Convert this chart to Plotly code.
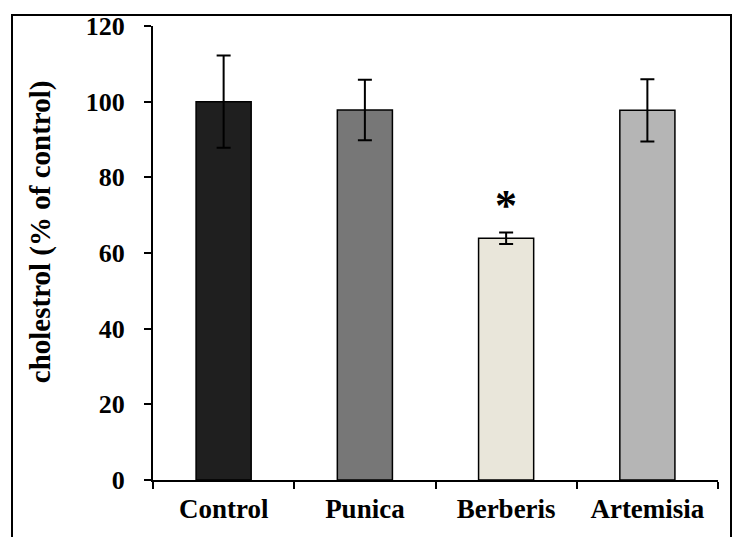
import plotly.graph_objects as go

categories = ["Control", "Punica", "Berberis", "Artemisia"]
values = [100.0, 97.8, 63.9, 97.7]
errors = [12.2, 8.0, 1.5, 8.2]
colors = ["#1f1f1f", "#777777", "#e9e6da", "#b5b5b5"]
significant = [False, False, True, False]
y_ticks = [0, 20, 40, 60, 80, 100, 120]

W, H = 738, 537
ML, MR, MT, MB = 153, 20, 22, 57
pw, ph = W - ML - MR, H - MT - MB

fig = go.Figure()
fig.add_trace(go.Bar(
    x=categories, y=values,
    marker=dict(color=colors, line=dict(color="black", width=1.5)),
    error_y=dict(type="data", array=errors, visible=True, color="black",
                 thickness=2, width=7),
    width=0.39,
    showlegend=False,
))

for c, v, e, s in zip(categories, values, errors, significant):
    if s:
        fig.add_annotation(x=c, y=v + e, yshift=27, text="<b>*</b>",
                           showarrow=False, yanchor="middle",
                           font=dict(family="Liberation Serif", size=44, color="black"))

def px(xp):
    return (xp - ML) / pw

def py(yp):
    return (H - MB - yp) / ph

# outer frame (bottom edge lies outside the picture)
fig.add_shape(type="rect", xref="paper", yref="paper",
              x0=px(12), x1=px(731), y0=py(560), y1=py(11),
              line=dict(color="black", width=2), layer="below")

fig.update_layout(
    width=W, height=H,
    margin=dict(l=ML, r=MR, t=MT, b=MB),
    paper_bgcolor="white", plot_bgcolor="white",
    font=dict(family="Liberation Serif", color="black"),
    xaxis=dict(
        type="category", range=[-0.5, 3.5],
        showline=True, linecolor="black", linewidth=2,
        ticks="outside", tickson="boundaries", ticklen=7, tickwidth=2,
        tickcolor="black", showgrid=False, zeroline=False,
        tickfont=dict(family="Liberation Serif", size=27, color="black"),
        ticklabelstandoff=4,
    ),
    yaxis=dict(
        range=[0, 120], tickvals=y_ticks, ticktext=[f"<b>{t}</b>" for t in y_ticks],
        showline=True, linecolor="black", linewidth=2,
        ticks="outside", ticklen=7, tickwidth=2, tickcolor="black",
        showgrid=False, zeroline=False,
        tickfont=dict(family="Liberation Serif", size=26, color="black"),
        ticklabelstandoff=14,
    ),
)
fig.update_xaxes(ticktext=[f"<b>{c}</b>" for c in categories], tickvals=categories)

fig.add_annotation(xref="paper", yref="paper", x=px(40), y=py(230),
                   text="<b>cholestrol (% of control)</b>", textangle=-90,
                   showarrow=False, xanchor="center", yanchor="middle",
                   font=dict(family="Liberation Serif", size=29, color="black"))

fig.write_html("out.html")
